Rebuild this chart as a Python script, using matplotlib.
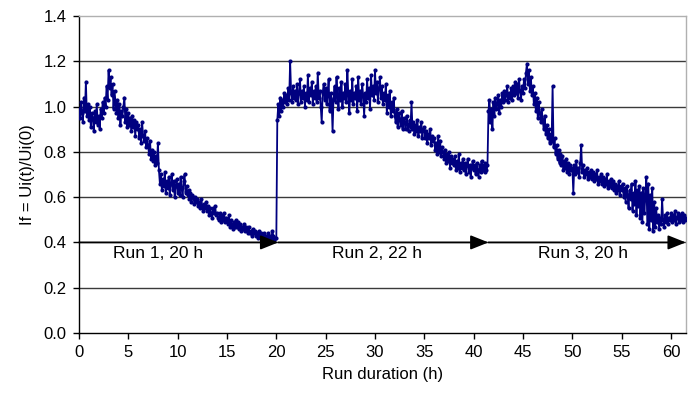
import numpy as np
import matplotlib
matplotlib.use("Agg")
import matplotlib.pyplot as plt

plt.rcParams['font.family'] = ['Liberation Sans', 'DejaVu Sans']

# ---------- data (one value every 0.1 h) ----------
step_h = 0.1

run1_start = 0.0
run1_if = [
    0.99, 0.95, 1.02, 0.97, 0.93, 1.04, 0.98, 1.11, 0.96, 1.01,   # 0 h
    0.94, 1.00, 0.91, 0.97, 0.95, 0.89, 0.98, 0.93, 1.01, 0.92,
    0.96, 0.90, 0.99, 0.95, 1.02, 0.97, 1.04, 1.00, 1.09, 1.03,
    1.16, 1.08, 1.13, 1.05, 1.10, 0.99, 1.07, 1.02, 0.97, 1.03,
    0.95, 1.01, 0.92, 0.98, 0.96, 1.00, 1.04, 0.93, 0.99, 0.91,
    0.97, 0.92, 0.95, 0.89, 0.96, 0.91, 0.94, 0.87, 0.93, 0.90,   # 5 h
    0.92, 0.86, 0.90, 0.84, 0.93, 0.87, 0.85, 0.89, 0.82, 0.86,
    0.83, 0.79, 0.85, 0.77, 0.81, 0.76, 0.80, 0.74, 0.78, 0.75,
    0.84, 0.72, 0.66, 0.70, 0.63, 0.68, 0.65, 0.71, 0.62, 0.67,
    0.64, 0.69, 0.61, 0.66, 0.70, 0.63, 0.67, 0.60, 0.65, 0.68,
    0.62, 0.66, 0.61, 0.69, 0.64, 0.60, 0.67, 0.70, 0.62, 0.65,   # 10 h
    0.61, 0.63, 0.59, 0.62, 0.58, 0.61, 0.60, 0.57, 0.60, 0.58,
    0.59, 0.56, 0.58, 0.55, 0.59, 0.56, 0.54, 0.57, 0.55, 0.58,
    0.54, 0.56, 0.52, 0.55, 0.53, 0.51, 0.55, 0.53, 0.56, 0.52,
    0.53, 0.51, 0.50, 0.53, 0.49, 0.52, 0.50, 0.53, 0.49, 0.51,
    0.50, 0.48, 0.52, 0.47, 0.50, 0.48, 0.46, 0.49, 0.47, 0.50,   # 15 h
    0.47, 0.49, 0.46, 0.48, 0.45, 0.47, 0.46, 0.48, 0.45, 0.47,
    0.46, 0.44, 0.47, 0.44, 0.45, 0.43, 0.46, 0.44, 0.45, 0.43,
    0.44, 0.42, 0.45, 0.43, 0.44, 0.42, 0.43, 0.41, 0.44, 0.42,
    0.43, 0.42, 0.44, 0.41, 0.43, 0.42, 0.45, 0.43, 0.41, 0.42,
    0.42]

run2_start = 20.1
run2_if = [
    0.94, 1.01, 0.96, 1.04, 0.98, 1.03, 1.00, 1.06, 1.02,         # 20.1 h
    1.05, 1.01, 1.08, 1.03, 1.20, 1.06, 1.02, 1.09, 1.04, 1.07,   # 21 h
    1.03, 1.10, 1.01, 1.06, 1.12, 1.02, 1.07, 1.04, 1.09, 1.00,
    1.06, 1.03, 1.14, 1.02, 1.08, 1.05, 1.11, 1.01, 1.07, 1.04,
    1.09, 1.02, 1.15, 1.04, 1.07, 1.00, 0.93, 1.06, 1.10, 1.03,
    1.08, 1.01, 1.05, 1.12, 0.98, 1.06, 1.03, 0.89, 1.04, 1.09,   # 25 h
    1.02, 1.13, 1.05, 0.99, 1.08, 1.03, 1.11, 1.00, 1.06, 1.04,
    1.10, 1.02, 1.16, 1.05, 0.97, 1.07, 1.03, 1.12, 1.01, 1.06,
    1.04, 1.09, 0.98, 1.13, 1.03, 1.07, 1.01, 1.10, 1.05, 0.96,
    1.06, 1.02, 1.12, 1.04, 1.08, 0.99, 1.14, 1.05, 1.09, 1.03,
    1.16, 1.06, 1.11, 1.02, 1.08, 1.13, 1.04, 1.09, 1.01, 1.06,   # 30 h
    1.03, 1.10, 0.97, 1.05, 1.00, 1.07, 0.96, 1.02, 0.98, 1.04,
    0.96, 0.93, 0.99, 0.91, 0.97, 0.94, 0.92, 0.98, 0.90, 0.95,
    0.93, 0.90, 0.96, 0.92, 0.89, 0.94, 0.91, 1.02, 0.90, 0.93,
    0.88, 0.92, 0.89, 0.94, 0.87, 0.91, 0.89, 0.93, 0.86, 0.90,
    0.91, 0.86, 0.89, 0.84, 0.88, 0.86, 0.90, 0.83, 0.87, 0.85,   # 35 h
    0.86, 0.81, 0.84, 0.79, 0.87, 0.80, 0.85, 0.78, 0.82, 0.80,
    0.77, 0.81, 0.75, 0.79, 0.76, 0.80, 0.73, 0.78, 0.75, 0.77,
    0.74, 0.78, 0.72, 0.76, 0.73, 0.79, 0.71, 0.75, 0.73, 0.77,
    0.72, 0.75, 0.70, 0.74, 0.77, 0.71, 0.74, 0.69, 0.73, 0.76,
    0.72, 0.74, 0.70, 0.75, 0.72, 0.69, 0.74, 0.71, 0.76, 0.72,   # 40 h
    0.74, 0.71, 0.75, 0.72, 0.74]

run3_start = 41.5
run3_if = [
    0.98, 1.03, 0.93, 0.99, 0.90,                                 # 41.5 h
    1.02, 0.96, 1.04, 0.99, 1.01, 1.05, 0.97, 1.03, 1.00, 1.06,   # 42 h
    1.02, 1.07, 1.03, 1.05, 1.09, 1.02, 1.06, 1.04, 1.08, 1.03,
    1.09, 1.05, 1.11, 1.06, 1.10, 1.04, 1.12, 1.07, 1.03, 1.09,
    1.06, 1.12, 1.08, 1.15, 1.19, 1.10, 1.16, 1.07, 1.13, 1.05,   # 45 h
    1.09, 1.01, 1.06, 0.98, 1.04, 0.95, 1.02, 0.97, 0.93, 0.99,
    0.94, 0.90, 0.96, 0.88, 0.92, 0.86, 0.90, 0.84, 0.88, 0.85,
    1.09, 0.82, 0.86, 0.79, 0.83, 0.77, 0.81, 0.75, 0.79, 0.74,
    0.78, 0.72, 0.76, 0.73, 0.77, 0.71, 0.75, 0.70, 0.74, 0.72,
    0.73, 0.62, 0.74, 0.70, 0.76, 0.71, 0.73, 0.69, 0.75, 0.83,   # 50 h
    0.71, 0.74, 0.69, 0.72, 0.70, 0.73, 0.68, 0.71, 0.69, 0.72,
    0.68, 0.71, 0.67, 0.70, 0.68, 0.72, 0.66, 0.69, 0.67, 0.70,
    0.66, 0.69, 0.65, 0.68, 0.66, 0.70, 0.64, 0.67, 0.65, 0.68,
    0.64, 0.67, 0.63, 0.66, 0.62, 0.65, 0.63, 0.67, 0.61, 0.65,
    0.63, 0.66, 0.60, 0.64, 0.58, 0.65, 0.61, 0.55, 0.63, 0.59,   # 55 h
    0.66, 0.54, 0.62, 0.57, 0.67, 0.52, 0.63, 0.56, 0.65, 0.51,
    0.62, 0.49, 0.64, 0.53, 0.60, 0.69, 0.48, 0.66, 0.46, 0.61,
    0.50, 0.64, 0.45, 0.58, 0.47, 0.55, 0.49, 0.52, 0.46, 0.51,
    0.48, 0.59, 0.50, 0.47, 0.52, 0.49, 0.53, 0.48, 0.51, 0.50,
    0.53, 0.49, 0.52, 0.50, 0.54, 0.48, 0.51, 0.53, 0.49, 0.52,   # 60 h
    0.50, 0.53, 0.49, 0.52, 0.50, 0.51]

run_bounds = [0.0, 20.2, 41.5, 61.5]
run_labels = ["Run 1, 20 h", "Run 2, 22 h", "Run 3, 20 h"]
label_x = [8.0, 30.2, 51.1]
yticks = [0.0, 0.2, 0.4, 0.6, 0.8, 1.0, 1.2, 1.4]
xticks = list(range(0, 61, 5))

# ---------- time axis for each run ----------
t_all, v_all = [], []
for start, vals in [(run1_start, run1_if), (run2_start, run2_if), (run3_start, run3_if)]:
    t_all.extend(start + step_h * np.arange(len(vals)))
    v_all.extend(vals)

# ---------- figure ----------
fig = plt.figure(figsize=(6.88, 4.01), dpi=100)
ax = fig.add_axes([0.1148, 0.1696, 0.882, 0.7905])

for y in yticks[1:-1]:
    ax.axhline(y, color='#3a3a3a', lw=1.0, zorder=1)

ax.plot(t_all, v_all, color='#000080', lw=1.3, marker='o', markersize=3.0,
        markeredgewidth=0, zorder=3)

# run arrows on the 0.4 line
for i in range(3):
    ax.annotate("", xy=(run_bounds[i + 1], 0.4), xytext=(run_bounds[i], 0.4),
                arrowprops=dict(arrowstyle='-|>,head_length=0.55,head_width=0.22',
                                color='black', lw=1.2, mutation_scale=20,
                                shrinkA=0, shrinkB=0),
                zorder=4, annotation_clip=False)
    ax.text(label_x[i], 0.382, run_labels[i], ha='center', va='top', fontsize=12.5)

ax.set_xlim(0, 61.5)
ax.set_ylim(0, 1.4)
ax.set_xticks(xticks)
ax.set_yticks(yticks)
ax.set_yticklabels([f"{y:.1f}" for y in yticks])
ax.tick_params(direction='out', length=4, width=1, labelsize=12, color='black', pad=5)

for s in ['left', 'bottom']:
    ax.spines[s].set_color('black')
    ax.spines[s].set_linewidth(1.0)
for s in ['top', 'right']:
    ax.spines[s].set_color('#b0b0b0')
    ax.spines[s].set_linewidth(1.0)

ax.set_xlabel("Run duration (h)", fontsize=12, labelpad=5)
ax.set_ylabel("If = Ui(t)/Ui(0)", fontsize=12, labelpad=6)

fig.savefig("out.png", dpi=100)
